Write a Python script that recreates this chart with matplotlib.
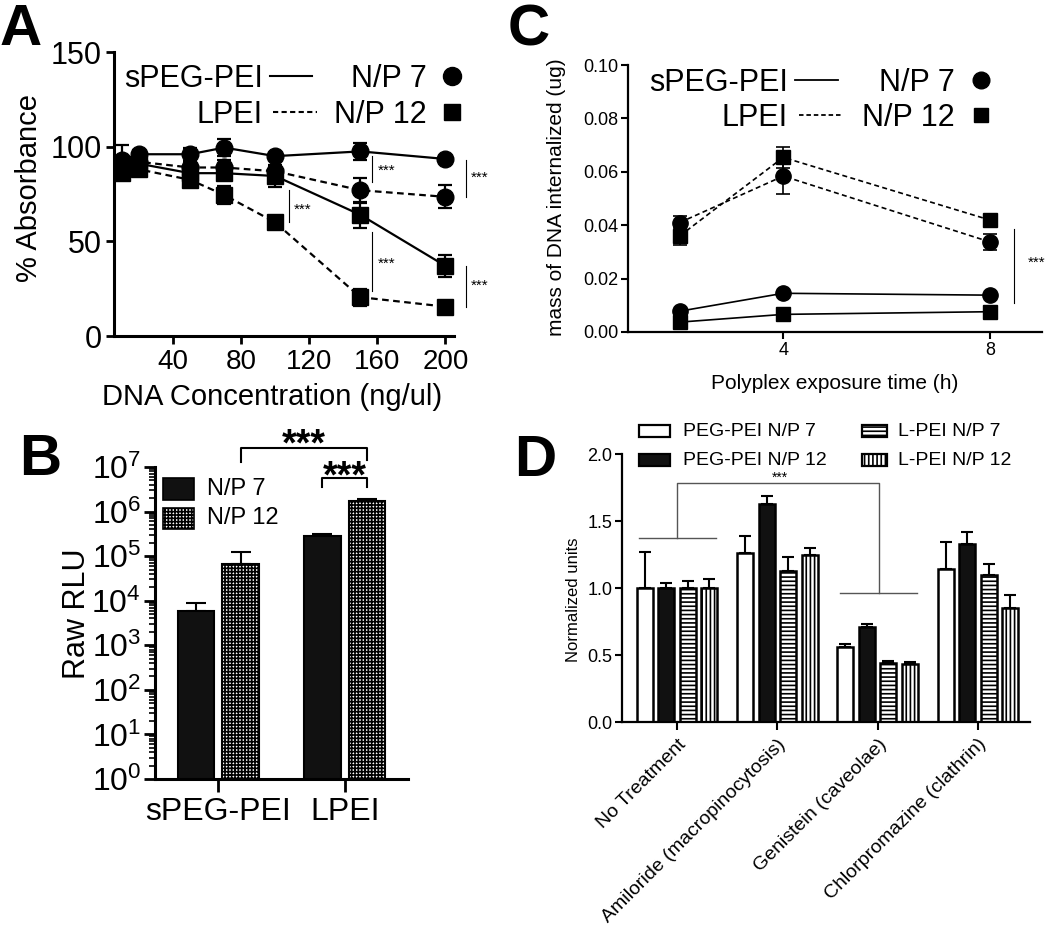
import matplotlib
matplotlib.use("Agg")
import matplotlib.pyplot as plt
import numpy as np
from matplotlib.lines import Line2D
from matplotlib.patches import Rectangle
from matplotlib.ticker import FormatStrFormatter, LogLocator, NullFormatter

plt.rcParams["font.family"] = ["Liberation Sans", "DejaVu Sans"]
plt.rcParams["mathtext.default"] = "regular"
plt.rcParams["hatch.linewidth"] = 1.2

# ---------------- data ----------------
# A: cell viability vs DNA concentration
conc = [10, 20, 50, 70, 100, 150, 200]
a_speg_np7 = [93, 96, 96, 99.5, 95, 97.5, 93.5]
a_speg_np7_err = [8, 2, 3.5, 4.5, 1.5, 4.5, 1.5]
a_speg_np12 = [89, 91, 86, 86, 84.5, 64, 37]
a_speg_np12_err = [3, 2, 3, 3, 6, 6.8, 5.7]
a_lpei_np7 = [91, 92, 89, 89, 87, 77, 73.5]
a_lpei_np7_err = [3, 2, 3, 4, 3, 6.5, 6]
a_lpei_np12 = [86, 88, 82.5, 74.5, 60, 20.5, 15.5]
a_lpei_np12_err = [2, 2, 3, 4.6, 1, 4.4, 1]

# B: transfection (raw RLU)
b_groups = ["sPEG-PEI", "LPEI"]
b_np7 = [5900, 280000]
b_np7_err = [3000, 40000]
b_np12 = [68000, 1730000]
b_np12_err = [55000, 140000]

# C: DNA uptake vs time
times = [2, 4, 8]
c_speg_np7 = [0.0078, 0.0145, 0.0138]
c_speg_np7_err = [0.001, 0.0008, 0.0008]
c_speg_np12 = [0.0037, 0.0066, 0.0076]
c_speg_np12_err = [0.001, 0.0008, 0.0008]
c_lpei_np7 = [0.041, 0.0584, 0.0337]
c_lpei_np7_err = [0.0025, 0.0068, 0.003]
c_lpei_np12 = [0.036, 0.0654, 0.0419]
c_lpei_np12_err = [0.0035, 0.004, 0.0008]

# D: endocytosis inhibitors
d_cats = ["No Treatment", "Amiloride (macropinocytosis)",
          "Genistein (caveolae)", "Chlorpromazine (clathrin)"]
d_labels = ["PEG-PEI N/P 7", "PEG-PEI N/P 12", "L-PEI N/P 7", "L-PEI N/P 12"]
d_peg_np7 = [1.0, 1.26, 0.556, 1.14]
d_peg_np7_err = [0.27, 0.13, 0.025, 0.205]
d_peg_np12 = [1.0, 1.63, 0.71, 1.33]
d_peg_np12_err = [0.035, 0.06, 0.025, 0.085]
d_lpei_np7 = [1.0, 1.13, 0.444, 1.10]
d_lpei_np7_err = [0.055, 0.105, 0.012, 0.08]
d_lpei_np12 = [1.0, 1.25, 0.431, 0.852]
d_lpei_np12_err = [0.068, 0.045, 0.014, 0.095]

# ---------------- layout helpers (pixels -> figure fraction) ----------------
W, H = 1050, 930
fig = plt.figure(figsize=(10.5, 9.3), dpi=100)


def fx(x):
    return x / W


def fy(y):
    return 1 - y / H


def box(l, t, r, b):
    return [l / W, 1 - b / H, (r - l) / W, (b - t) / H]


def spines(ax, lw):
    ax.spines["top"].set_visible(False)
    ax.spines["right"].set_visible(False)
    ax.spines["left"].set_linewidth(lw)
    ax.spines["bottom"].set_linewidth(lw)


def line_legend(rows, x_text, x_l0, x_l1, x_np, x_mk, size, lw, ms_c, ms_s, dash):
    # rows: (y_center, name, linestyle, np label, marker)
    cap = size * 100 / 72 * 0.716
    for y, name, ls, np_lab, mk in rows:
        fig.text(fx(x_text), fy(y + cap / 2), name, ha="right", va="baseline", fontsize=size)
        st = "-" if ls == "-" else (0, dash)
        fig.add_artist(Line2D([fx(x_l0[ls]), fx(x_l1[ls])], [fy(y), fy(y)],
                              transform=fig.transFigure, color="k", lw=lw, ls=st))
        fig.text(fx(x_np), fy(y + cap / 2), np_lab, ha="right", va="baseline", fontsize=size)
        fig.add_artist(Line2D([fx(x_mk)], [fy(y)], transform=fig.transFigure, color="k",
                              marker=mk, ms=ms_c if mk == "o" else ms_s, ls="none"))


# ---------------- A ----------------
ax = fig.add_axes(box(114, 52, 454, 336))
dashA = (3, 2)
for vals, err, ls, mk, ms in [
    (a_lpei_np12, a_lpei_np12_err, (0, dashA), "s", 11),
    (a_lpei_np7, a_lpei_np7_err, (0, dashA), "o", 12),
    (a_speg_np12, a_speg_np12_err, "-", "s", 11),
    (a_speg_np7, a_speg_np7_err, "-", "o", 12),
]:
    ax.errorbar(conc, vals, yerr=err, color="k", ls=ls, marker=mk, ms=ms, lw=1.6,
                elinewidth=1.6, capsize=5, capthick=1.6, clip_on=False)
ax.set_xlim(5.3, 205)
ax.set_ylim(0, 150)
ax.set_xticks([40, 80, 120, 160, 200])
ax.set_yticks([0, 50, 100, 150])
ax.tick_params(axis="x", labelsize=20, width=2, length=6, pad=3)
ax.tick_params(axis="y", labelsize=22, width=2, length=6, pad=3)
spines(ax, 2.2)
for x, y0, y1, ty in [(108, 60, 77, 66.5), (157, 81.5, 95, 87), (157, 24, 55, 38),
                      (212, 73.5, 93, 83.5), (212, 15.5, 37, 26.5)]:
    ax.plot([x, x], [y0, y1], color="k", lw=0.8, clip_on=False)
    ax.text(x + 3, ty, "***", fontsize=11, va="center", ha="left", clip_on=False)
fig.text(fx(29), fy(188), "% Absorbance", rotation=90, ha="center", va="center", fontsize=21)
fig.text(fx(272), fy(397), "DNA Concentration (ng/ul)", ha="center", va="center", fontsize=21)
line_legend([(76, "sPEG-PEI", "-", "N/P 7", "o"), (112, "LPEI", "--", "N/P 12", "s")],
            263, {"-": 270, "--": 273}, {"-": 312, "--": 317}, 427, 452, 22, 1.5, 13, 11, (2.5, 1.6))

# ---------------- B ----------------
ax = fig.add_axes(box(155, 467, 408, 779))
xb = np.arange(len(b_groups))
off, wb = 0.177, 0.29
ax.bar(xb - off, b_np7, wb, color="#111111", edgecolor="k", lw=1.5, zorder=2)
ax.bar(xb + off, b_np12, wb, color="white", edgecolor="k", lw=1.5, hatch="+++++", zorder=2)
ax.errorbar(xb - off, b_np7, yerr=[np.zeros(2), b_np7_err], fmt="none", ecolor="k",
            elinewidth=1.5, capsize=7, capthick=1.5, zorder=1)
ax.errorbar(xb + off, b_np12, yerr=[np.zeros(2), b_np12_err], fmt="none", ecolor="k",
            elinewidth=1.5, capsize=7, capthick=1.5, zorder=1)
ax.set_yscale("log")
ax.set_ylim(1, 1e7)
ax.set_xlim(-0.5, 1.5)
ax.yaxis.set_major_locator(LogLocator(base=10, numticks=10))
ax.yaxis.set_minor_locator(LogLocator(base=10, subs=np.arange(2, 10), numticks=20))
ax.yaxis.set_minor_formatter(NullFormatter())
ax.set_xticks(xb)
ax.set_xticklabels(b_groups)
ax.tick_params(axis="y", which="major", labelsize=23, width=2, length=8, pad=2)
ax.tick_params(axis="y", which="minor", width=1.2, length=4)
ax.tick_params(axis="x", labelsize=23, width=2, length=9, pad=4)
spines(ax, 2.2)
# significance brackets
ax.plot([0 + off, 0 + off, 1 + off, 1 + off], [1.28e7, 2.63e7, 2.63e7, 1.4e7], color="k", lw=1.5, clip_on=False)
ax.plot([1 - off, 1 - off, 1 + off, 1 + off], [3.5e6, 5.6e6, 5.6e6, 3.5e6], color="k", lw=1.5, clip_on=False)
ax.text(0.5 + off, 3.1e7, "***", fontsize=27, fontweight="bold", ha="center", va="center", clip_on=False)
ax.text(1.0, 5.7e6, "***", fontsize=27, fontweight="bold", ha="center", va="center", clip_on=False)
fig.text(fx(77), fy(614), "Raw RLU", rotation=90, ha="center", va="center", fontsize=22)
fig.add_artist(Rectangle((fx(163), fy(500)), 31 / W, 22 / H, transform=fig.transFigure,
                         facecolor="#111111", edgecolor="k", lw=1.2))
fig.add_artist(Rectangle((fx(163), fy(529)), 31 / W, 21 / H, transform=fig.transFigure,
                         facecolor="white", edgecolor="k", lw=1.2, hatch="+++++"))
fig.text(fx(207), fy(489), "N/P 7", va="center", ha="left", fontsize=17)
fig.text(fx(207), fy(518), "N/P 12", va="center", ha="left", fontsize=17)

# ---------------- C ----------------
ax = fig.add_axes(box(628, 65, 1042, 332))
dashC = (3, 2)
for vals, err, ls, mk, ms in [
    (c_lpei_np12, c_lpei_np12_err, (0, dashC), "s", 10),
    (c_lpei_np7, c_lpei_np7_err, (0, dashC), "o", 11),
    (c_speg_np12, c_speg_np12_err, "-", "s", 10),
    (c_speg_np7, c_speg_np7_err, "-", "o", 11),
]:
    ax.errorbar(times, vals, yerr=err, color="k", ls=ls, marker=mk, ms=ms, lw=1.2,
                elinewidth=1.2, capsize=5, capthick=1.2, clip_on=False)
ax.set_xlim(1, 9)
ax.set_ylim(0, 0.10)
ax.set_xticks([4, 8])
ax.set_yticks(np.arange(0, 0.101, 0.02))
ax.yaxis.set_major_formatter(FormatStrFormatter("%.2f"))
ax.tick_params(labelsize=13, width=1.5, length=5, pad=2)
spines(ax, 1.6)
ax.plot([8.46, 8.46], [0.0109, 0.0387], color="k", lw=0.8, clip_on=False)
ax.text(8.73, 0.026, "***", fontsize=11, ha="left", va="center", clip_on=False)
fig.text(fx(557), fy(197), "mass of DNA internalized (ug)", rotation=90, ha="center",
         va="center", fontsize=15)
fig.text(fx(835), fy(383), "Polyplex exposure time (h)", ha="center", va="center", fontsize=15)
line_legend([(80, "sPEG-PEI", "-", "N/P 7", "o"), (115, "LPEI", "--", "N/P 12", "s")],
            788, {"-": 795, "--": 799}, {"-": 838, "--": 842}, 955, 981, 22, 1.3, 12, 10, (2.5, 1.6))

# ---------------- D ----------------
ax = fig.add_axes(box(622, 454, 1030, 722))
xd = np.arange(len(d_cats))
series = [(d_peg_np7, d_peg_np7_err, "white", ""),
          (d_peg_np12, d_peg_np12_err, "#111111", ""),
          (d_lpei_np7, d_lpei_np7_err, "white", "----"),
          (d_lpei_np12, d_lpei_np12_err, "white", "||||")]
for i, (vals, err, fc, ht) in enumerate(series):
    pos = xd + (i - 1.5) * 0.215
    ax.bar(pos, vals, 0.16, color=fc, edgecolor="k", lw=1.8, hatch=ht, zorder=2)
    ax.errorbar(pos, vals, yerr=[np.zeros(len(vals)), err], fmt="none", ecolor="k",
                elinewidth=1.5, capsize=4, capthick=1.5, zorder=1)
ax.set_xlim(-0.55, 3.52)
ax.set_ylim(0, 2)
ax.set_yticks([0, 0.5, 1.0, 1.5, 2.0])
ax.yaxis.set_major_formatter(FormatStrFormatter("%.1f"))
ax.set_xticks(xd)
ax.set_xticklabels(d_cats, rotation=45, ha="right", rotation_mode="anchor")
ax.tick_params(axis="y", labelsize=13, width=1.5, length=5, pad=2)
ax.tick_params(axis="x", labelsize=14, width=1.5, length=6, pad=4)
spines(ax, 1.6)
gray = "#555555"
ax.plot([-0.38, 0.39], [1.375, 1.375], color=gray, lw=1)
ax.plot([0, 0, 2.01, 2.01], [1.375, 1.786, 1.786, 0.964], color=gray, lw=1)
ax.plot([1.62, 2.39], [0.964, 0.964], color=gray, lw=1)
ax.text(1.03, 1.82, "***", fontsize=10, ha="center", va="center")
fig.text(fx(573), fy(600), "Normalized units", rotation=90, ha="center", va="center", fontsize=12)
for i, (lab, (vals, err, fc, ht)) in enumerate(zip(d_labels, series)):
    col, row = divmod(i, 2)
    px = [639, 862][col]
    pw = [31, 25][col]
    py = [431, 460][row]
    fig.add_artist(Rectangle((fx(px), fy(py + 6)), pw / W, 12 / H, transform=fig.transFigure,
                             facecolor=fc, edgecolor="k", lw=1.6, hatch=ht))
    fig.text(fx([683, 898][col]), fy(py), lab, ha="left", va="center", fontsize=14)

# panel letters
for lab, x, yb in [("A", 0, 45), ("B", 19, 475), ("C", 508, 45), ("D", 514, 476)]:
    fig.text(fx(x), fy(yb), lab, fontsize=42, fontweight="bold", ha="left", va="baseline")

fig.savefig("out.png", dpi=100)
